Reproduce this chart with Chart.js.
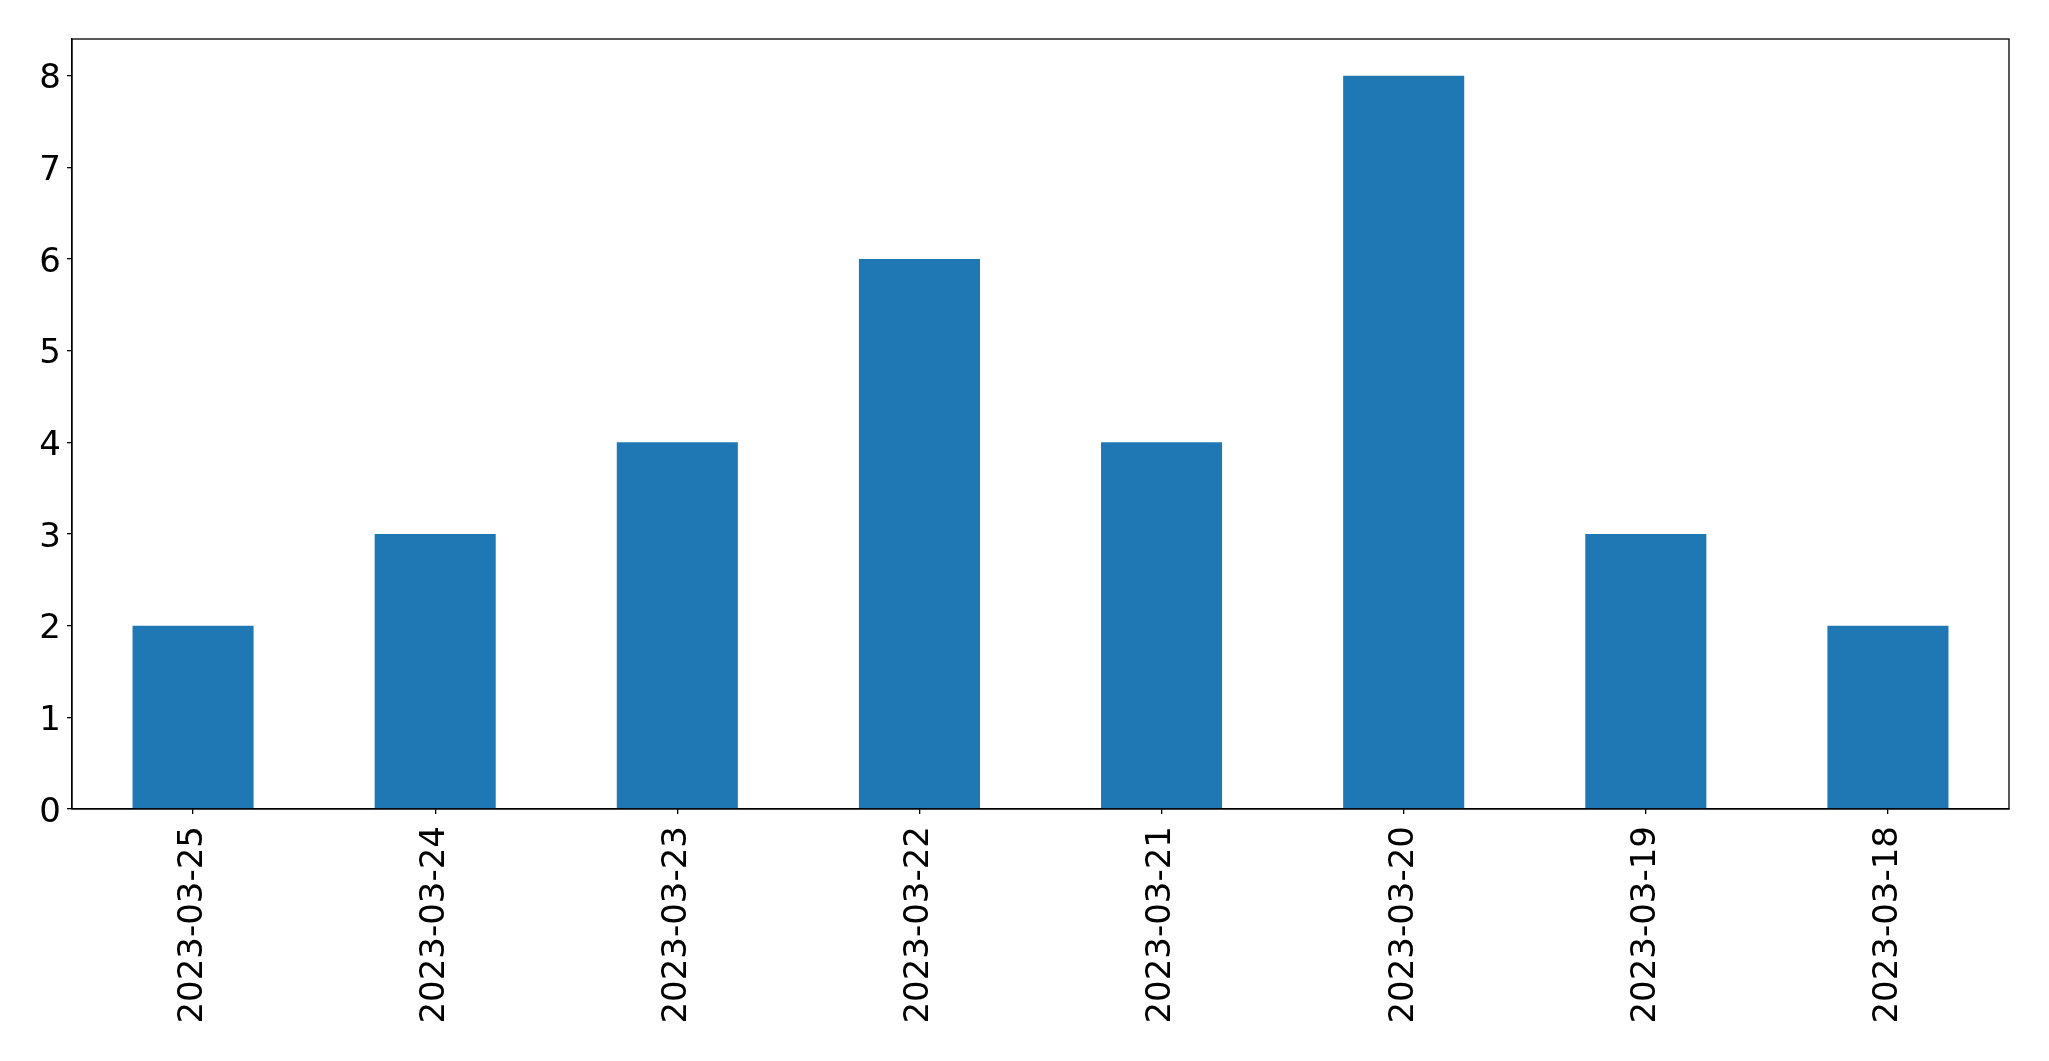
<!DOCTYPE html>
<html>
<head>
<meta charset="utf-8">
<script src="https://cdn.jsdelivr.net/npm/chart.js@4"></script>
<style>
html,body{margin:0;padding:0;background:#fff;}
#wrap{width:2049px;height:1061px;}
</style>
</head>
<body>
<div id="wrap"><canvas id="c" width="2049" height="1061"></canvas></div>
<script>
const categories = ["2023-03-25","2023-03-24","2023-03-23","2023-03-22","2023-03-21","2023-03-20","2023-03-19","2023-03-18"];
const counts = [2,3,4,6,4,8,3,2];
const yTicks = [0,1,2,3,4,5,6,7,8];

const frame = {
  id: 'frame',
  afterDraw(chart){
    const a = chart.chartArea, ctx = chart.ctx;
    ctx.save();
    ctx.strokeStyle = '#000';
    ctx.lineWidth = 1.3;
    ctx.strokeRect(a.left, a.top, a.right - a.left, a.bottom - a.top);
    ctx.restore();
  }
};

new Chart(document.getElementById('c'), {
  type: 'bar',
  data: {
    labels: categories,
    datasets: [{ data: counts, backgroundColor: '#1f77b4', borderColor: '#1f77b4', borderWidth: 0,
                 barPercentage: 0.5, categoryPercentage: 1.0 }]
  },
  options: {
    responsive: false,
    animation: false,
    devicePixelRatio: 1,
    layout: { padding: { top: 39, right: 40, left: 0, bottom: 0 } },
    plugins: { legend: { display: false }, tooltip: { enabled: false } },
    scales: {
      x: {
        offset: true,
        grid: { display: true, offset: false, drawOnChartArea: false, drawTicks: true, tickLength: 5, color: '#000', lineWidth: 1.3 },
        border: { display: true, color: '#000', width: 1.3 },
        ticks: { color: '#000', font: { family: 'DejaVu Sans', size: 34 }, minRotation: 90, maxRotation: 90, padding: 12, autoSkip: false },
        afterFit(s){ s.height = 1061 - 809; }
      },
      y: {
        min: 0, max: 8.4,
        grid: { display: true, drawOnChartArea: false, drawTicks: true, tickLength: 5, color: '#000', lineWidth: 1.3 },
        border: { display: true, color: '#000', width: 1.3 },
        ticks: { color: '#000', font: { family: 'DejaVu Sans', size: 34 }, stepSize: 1, padding: 6, labelOffset: 4 },
        afterBuildTicks(s){ s.ticks = yTicks.map(v => ({ value: v })); },
        afterFit(s){ s.width = 72; }
      }
    }
  },
  plugins: [frame]
});
</script>
</body>
</html>
